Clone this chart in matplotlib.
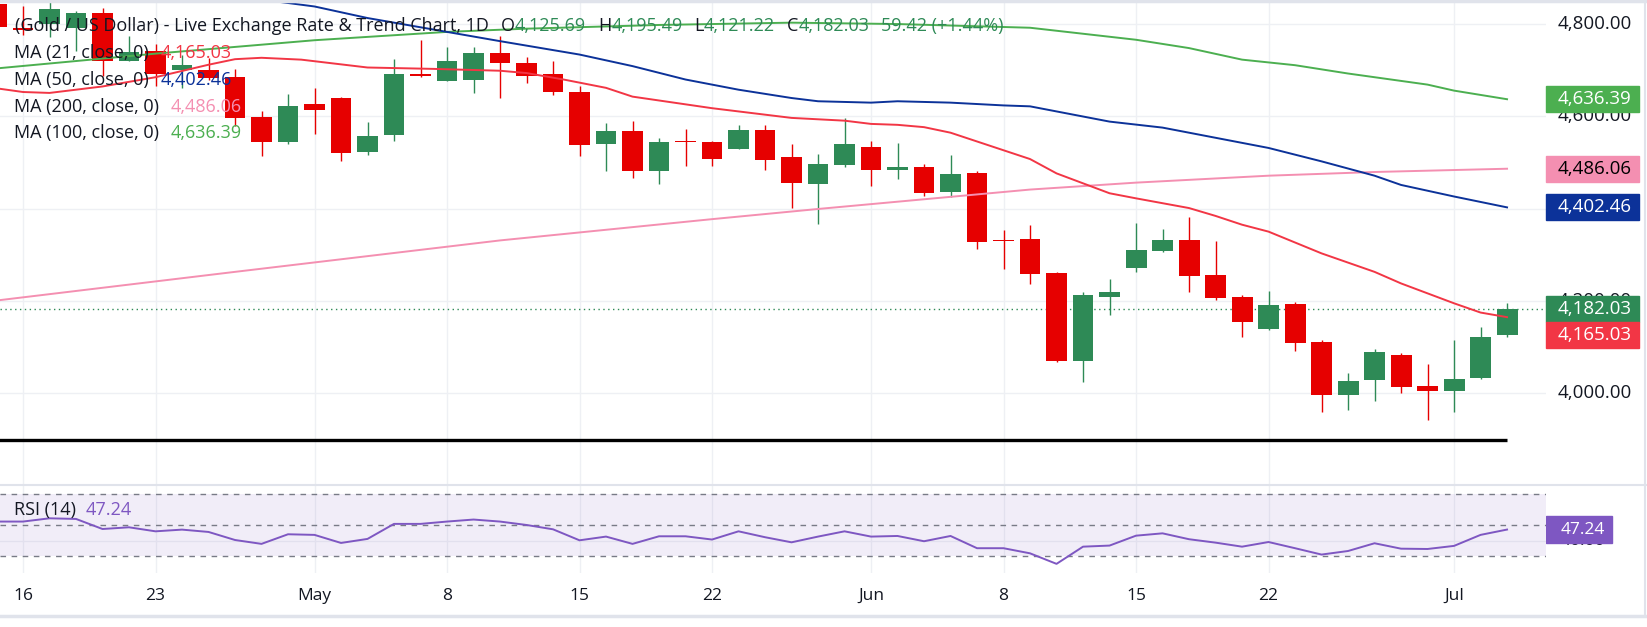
import numpy as np
import matplotlib
matplotlib.use("Agg")
import matplotlib.pyplot as plt
from matplotlib.patches import Rectangle
from matplotlib.transforms import blended_transform_factory

plt.rcParams['font.family'] = ['Open Sans', 'DejaVu Sans']

# daily candles, day 0 = 16 Apr, day 56 = 3 Jul (weekdays only)
days = np.arange(-1, 57)
opens = [4843, 4790, 4800, 4791, 4823, 4720, 4741, 4699, 4700, 4684,
         4599, 4544, 4626, 4640, 4523, 4560, 4692, 4675, 4677, 4737,
         4715, 4692, 4653, 4540, 4568, 4482, 4546, 4544, 4529, 4570,
         4512, 4453, 4495, 4534, 4484, 4490, 4436, 4477, 4331, 4334,
         4261, 4070, 4209, 4271, 4308, 4332, 4256, 4209, 4139, 4193,
         4111, 3996, 4029, 4083, 4016, 4005, 4033, 4125.69]
highs = [4852, 4839, 4848, 4827, 4834, 4774, 4755, 4733, 4725, 4702,
         4611, 4648, 4661, 4641, 4587, 4724, 4765, 4749, 4749, 4774,
         4728, 4720, 4666, 4586, 4590, 4553, 4573, 4547, 4581, 4581,
         4540, 4518, 4596, 4547, 4542, 4497, 4516, 4482, 4354, 4365,
         4262, 4219, 4248, 4369, 4356, 4382, 4330, 4213, 4222, 4198,
         4116, 4044, 4096, 4087, 4064, 4116, 4144, 4195.49]
lows = [4785, 4776, 4771, 4740, 4687, 4718, 4666, 4661, 4679, 4578,
        4513, 4540, 4562, 4502, 4515, 4547, 4685, 4675, 4649, 4640,
        4671, 4646, 4513, 4482, 4466, 4453, 4491, 4492, 4529, 4484,
        4401, 4367, 4490, 4449, 4464, 4427, 4425, 4313, 4269, 4237,
        4068, 4025, 4170, 4263, 4306, 4219, 4202, 4122, 4137, 4092,
        3960, 3964, 3983, 4001, 3942, 3960, 4031, 4121.22]
closes = [4793, 4787, 4832, 4822, 4720, 4739, 4692, 4711, 4682, 4595,
          4543, 4622, 4614, 4521, 4557, 4692, 4686, 4718, 4737, 4714,
          4687, 4651, 4538, 4568, 4482, 4544, 4543, 4508, 4570, 4505,
          4456, 4497, 4540, 4484, 4490, 4434, 4475, 4328, 4329, 4258,
          4070, 4213, 4219, 4310, 4332, 4254, 4206, 4155, 4191, 4109,
          3996, 4027, 4090, 4014, 4005, 4031, 4122.61, 4182.03]

# moving averages
ma21_days = [-1, 0, 1, 3, 5, 7, 8, 9, 10.5, 13, 15.5, 18, 19, 20.4, 22, 23, 26, 29,
             31, 32, 33, 34, 35, 36, 38, 39, 41, 42, 44, 45, 46, 47, 49, 51, 52, 54, 55, 56]
ma21_vals = [4660, 4652, 4650, 4664, 4684, 4711, 4723, 4726, 4722, 4705, 4702, 4698, 4693,
             4679, 4661, 4642, 4617, 4596, 4590, 4583, 4581, 4576, 4564, 4545, 4507, 4476,
             4433, 4422, 4401, 4384, 4365, 4350, 4303, 4263, 4238, 4195, 4175, 4165.03]
ma50_days = [5, 7, 9, 11, 13, 16, 18, 21, 23, 25, 26, 27, 29, 30, 32, 33, 35, 37, 38,
             40, 41, 43, 44, 47, 49, 51, 52, 54, 56]
ma50_vals = [4880, 4866, 4852, 4837, 4812, 4782, 4762, 4733, 4708, 4679, 4668, 4657, 4639,
             4632, 4629, 4632, 4629, 4623, 4621, 4599, 4588, 4575, 4564, 4531, 4502, 4471,
             4451, 4426, 4402.46]
ma100_days = [-1, 5, 11, 16, 19, 24, 29, 33, 38, 42, 44, 46, 47, 48, 50, 51, 53, 54, 56]
ma100_vals = [4703, 4735, 4764, 4782, 4789, 4797, 4802, 4799, 4791, 4765, 4747, 4722, 4716,
              4710, 4692, 4684, 4668, 4655, 4636.39]
ma200_days = [-1, 8, 18, 26, 30, 38, 42, 47, 51, 56]
ma200_vals = [4201, 4263, 4331, 4377, 4399, 4441, 4456, 4471, 4479, 4486.06]

support_level = 3900

rsi_vals = [52.4, 52.4, 54.5, 54.1, 47.6, 48.7, 46.1, 47.2, 45.7, 40.5,
            38.0, 44.2, 43.8, 38.6, 41.2, 50.9, 50.9, 52.4, 53.7, 52.4,
            50.2, 47.4, 40.3, 42.7, 38.0, 42.9, 42.9, 40.8, 46.1, 42.3,
            39.0, 42.7, 46.1, 42.7, 43.1, 39.7, 43.1, 35.2, 35.2, 31.9,
            25.1, 36.2, 36.9, 43.3, 44.8, 41.0, 38.8, 36.2, 39.2, 35.2,
            31.1, 33.4, 38.4, 34.9, 34.7, 36.7, 43.8, 47.24]

date_ticks = [0, 5, 11, 16, 21, 26, 32, 37, 42, 47, 54]
date_labels = ['16', '23', 'May', '8', '15', '22', 'Jun', '8', '15', '22', 'Jul']
price_ticks = [4000, 4200, 4400, 4600, 4800]

RED = '#e60000'
GREEN = '#2e8a56'
C21, C50, C100, C200 = '#f23645', '#0c3299', '#4caf50', '#f48fb1'
PURPLE = '#7e57c2'
TXT = '#131722'
GRID = '#eef0f4'

W, H = 1647, 627
fig = plt.figure(figsize=(W / 100, H / 100), dpi=100)
fig.patch.set_facecolor('white')


def box(x0, y0, x1, y1):
    return [x0 / W, 1 - y1 / H, (x1 - x0) / W, (y1 - y0) / H]


ax = fig.add_axes(box(0, 0, 1546, 485))
ax_rsi = fig.add_axes(box(0, 485, 1546, 573))
ax_ps = fig.add_axes(box(1546, 0, 1647, 485))
ax_rs = fig.add_axes(box(1546, 485, 1647, 573))

xlim = (-0.868, 57.47)
for a in (ax, ax_rsi):
    a.set_xlim(*xlim)
    a.set_xticks(date_ticks)
    a.tick_params(length=0, labelbottom=False, labelleft=False)
    a.grid(color=GRID, lw=1)
    a.set_axisbelow(True)
for a in (ax, ax_rsi, ax_ps, ax_rs):
    for s in a.spines.values():
        s.set_visible(False)
for a in (ax_ps, ax_rs):
    a.set_xticks([])
    a.set_yticks([])
    a.set_xlim(0, 1)

ax.set_ylim(3802, 4851)
ax.set_yticks(price_ticks)
ax_ps.set_ylim(3802, 4851)

# candles
for d, o, h, l, c in zip(days, opens, highs, lows, closes):
    col = GREEN if c >= o else RED
    ax.vlines(d, l, h, color=col, lw=1.0, zorder=2)
    ax.bar(d, max(abs(c - o), 2.5), bottom=min(o, c), width=0.79, color=col, lw=0, zorder=3)

# moving averages
ax.plot(ma200_days, ma200_vals, color=C200, lw=1.4, zorder=4)
ax.plot(ma100_days, ma100_vals, color=C100, lw=1.4, zorder=4)
ax.plot(ma50_days, ma50_vals, color=C50, lw=1.4, zorder=4)
ax.plot(ma21_days, ma21_vals, color=C21, lw=1.4, zorder=4)

ax.hlines(support_level, days[0], days[-1], color='black', lw=2.4, zorder=4)
ax.axhline(closes[-1], color=GREEN, lw=1, ls=(0, (1, 2.5)), zorder=1)

# price scale
PS = 13.5
for p in price_ticks:
    ax_ps.text(0.85, p, f'{p:,.2f}', ha='right', va='center', fontsize=PS, color=TXT)

tr = blended_transform_factory(ax_ps.transAxes, ax_ps.transData)
bh = 56.2
tags = [(ma100_vals[-1], ma100_vals[-1], C100, 'white'),
        (ma200_vals[-1], ma200_vals[-1], C200, 'black'),
        (ma50_vals[-1], ma50_vals[-1], C50, 'white'),
        (closes[-1], closes[-1], GREEN, 'white'),
        (ma21_vals[-1], closes[-1] - bh, C21, 'white')]
for val, yc, fc, tc in tags:
    ax_ps.add_patch(Rectangle((0, yc - bh / 2), 0.92, bh, transform=tr, color=fc, zorder=5, clip_on=False))
    ax_ps.text(0.85, yc, f'{val:,.2f}', transform=tr, ha='right', va='center', fontsize=PS,
               color=tc, zorder=6)

# RSI pane
ax_rsi.set_ylim(19.2, 76)
ax_rsi.set_yticks([40])
ax_rsi.axhspan(30, 70, color=PURPLE, alpha=0.1, lw=0)
for lvl in (70, 50, 30):
    ax_rsi.axhline(lvl, color='#787b86', lw=1, ls=(0, (4, 4)))
ax_rsi.plot(days, rsi_vals, color=PURPLE, lw=1.4)

ax_rs.set_ylim(19.2, 76)
ax_rs.text(0.585, 40, '40.00', ha='right', va='center', fontsize=12.5, color=TXT)
trr = blended_transform_factory(ax_rs.transAxes, ax_rs.transData)
ax_rs.add_patch(Rectangle((0, rsi_vals[-1] - 8.7), 0.65, 17.4, transform=trr, color=PURPLE, zorder=5))
ax_rs.text(0.585, rsi_vals[-1], f'{rsi_vals[-1]:.2f}', transform=trr, ha='right', va='center',
           fontsize=12.5, color='white', zorder=6)

# date labels
for t, lab in zip(date_ticks, date_labels):
    xd = ax_rsi.transData.transform((t, 0))[0]
    fig.text(xd / W, 1 - 596 / H, lab, ha='center', va='center', fontsize=12.5, color=TXT)

# borders
for yy, lw in ((1, 2.5), (485, 1.5), (616, 2.5)):
    fig.add_artist(plt.Line2D([0, 1], [1 - yy / H] * 2, color='#e0e3eb', lw=lw))
fig.add_artist(plt.Line2D([1645 / W] * 2, [1 - 616 / H, 1], color='#e0e3eb', lw=1.5))

# legend rows
rend = fig.canvas.get_renderer()


def text_row(x, y, parts, size=13):
    for s, col, gap in parts:
        t = fig.text(x / W, 1 - y / H, s, color=col, fontsize=size, ha='left', va='center', zorder=10)
        x += t.get_window_extent(rend).width + gap


o, h, l, c = opens[-1], highs[-1], lows[-1], closes[-1]
chg = c - closes[-2]
text_row(15, 26, [('(Gold / US Dollar) - Live Exchange Rate & Trend Chart, 1D', TXT, 12),
                  ('O', TXT, 0), (f'{o:,.2f}', GREEN, 12),
                  ('H', TXT, 0), (f'{h:,.2f}', GREEN, 12),
                  ('L', TXT, 0), (f'{l:,.2f}', GREEN, 12),
                  ('C', TXT, 0), (f'{c:,.2f}', GREEN, 12),
                  (f'{chg:.2f} (+{chg / closes[-2] * 100:.2f}%)', GREEN, 0)])
text_row(14, 53, [('MA (21, close, 0)', TXT, 12), (f'{ma21_vals[-1]:,.2f}', C21, 0)])
text_row(14, 80, [('MA (50, close, 0)', TXT, 12), (f'{ma50_vals[-1]:,.2f}', C50, 0)])
text_row(14, 107, [('MA (200, close, 0)', TXT, 12), (f'{ma200_vals[-1]:,.2f}', C200, 0)])
text_row(14, 133, [('MA (100, close, 0)', TXT, 12), (f'{ma100_vals[-1]:,.2f}', C100, 0)])
text_row(14, 510, [('RSI (14)', TXT, 10), (f'{rsi_vals[-1]:.2f}', PURPLE, 0)])

fig.savefig('out.png', dpi=100)
